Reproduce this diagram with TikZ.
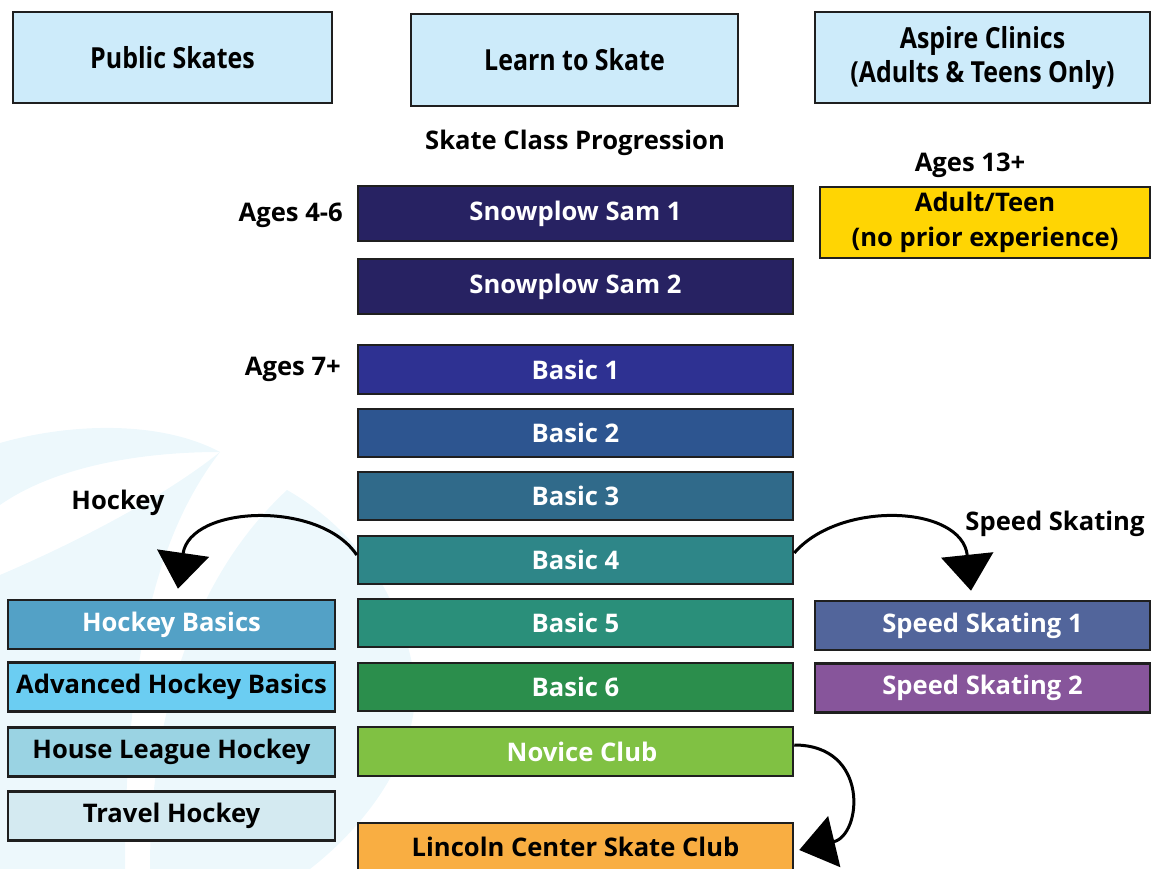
\documentclass[tikz,border=0pt]{standalone}
\usepackage{fontspec}
\setmainfont{Open Sans}
\newfontfamily\condfont{Open Sans}[FakeStretch=0.86]
\usetikzlibrary{arrows.meta}
\definecolor{wmark}{HTML}{EDF8FC}
\definecolor{toplight}{HTML}{CDEBFA}
\definecolor{samc}{HTML}{272262}
\definecolor{bone}{HTML}{2E3192}
\definecolor{btwo}{HTML}{2D5590}
\definecolor{bthree}{HTML}{306A8A}
\definecolor{bfour}{HTML}{2E8688}
\definecolor{bfive}{HTML}{2A8F7A}
\definecolor{bsix}{HTML}{2B8E4C}
\definecolor{novc}{HTML}{80C143}
\definecolor{lincc}{HTML}{F9AE42}
\definecolor{adultc}{HTML}{FFD503}
\definecolor{hbc}{HTML}{53A1C6}
\definecolor{ahbc}{HTML}{6BCDF2}
\definecolor{hlhc}{HTML}{9AD3E3}
\definecolor{thc}{HTML}{D4EAF1}
\definecolor{ssone}{HTML}{52659B}
\definecolor{sstwo}{HTML}{87559B}
\tikzset{
  box/.style={draw=black!88, line width=2.5pt, inner sep=0pt, font=\fontsize{25.6}{28}\selectfont\bfseries, align=center},
  midbox/.style={box, minimum width=435pt, text=white},
  leftbox/.style={box, minimum width=327pt, minimum height=49pt},
  rightbox/.style={box, minimum width=335pt, minimum height=49pt, text=white},
  topbox/.style={box, fill=toplight, font=\condfont\fontsize{29}{34}\selectfont\bfseries},
  lbl/.style={font=\fontsize{25.6}{28}\selectfont\bfseries, inner sep=0pt},
  flow/.style={line width=3pt, -{Triangle[width=52pt,length=36pt]}}
}
\begin{document}
\begin{tikzpicture}[x=1pt,y=-1pt]
\useasboundingbox (0,0) rectangle (1152,869);
% watermark
\fill[wmark] (0,443) .. controls (70,423) and (160,420) .. (220,452) .. controls (130,452) and (50,470) .. (0,505) -- cycle;
\fill[wmark] (0,575) .. controls (70,545) and (160,500) .. (220,452) .. controls (160,530) and (125,650) .. (125,869) -- (0,869) -- cycle;
\fill[wmark] (287,490) .. controls (340,520) and (400,580) .. (415,680) .. controls (420,760) and (360,830) .. (310,869) -- (150,869) .. controls (150,720) and (190,580) .. (287,490) -- cycle;
% top row
\node[topbox, minimum width=319pt, minimum height=91pt] (pub) at (172.5,57.5) {Public Skates};
\node[topbox, minimum width=327pt, minimum height=92pt] (lts) at (574.5,60) {Learn to Skate};
\node[topbox, minimum width=335pt, minimum height=91pt] (asp) at (982.5,57.5) {Aspire Clinics\\(Adults \& Teens Only)};
% labels
\node[lbl] (prog) at (575,143) {Skate Class Progression};
\node[lbl] (a13) at (970,165) {Ages 13+};
\node[lbl, anchor=east] (a46) at (343,215) {Ages 4-6};
\node[lbl, anchor=east] (a7) at (341,369) {Ages 7+};
\node[lbl] (hock) at (118,503) {Hockey};
\node[lbl] (spd) at (1055,524) {Speed Skating};
% adult
\node[box, fill=adultc, minimum width=330pt, minimum height=71pt, font=\fontsize{25.6}{35}\selectfont\bfseries] (adult) at (985,222.5) {Adult/Teen\\(no prior experience)};
% center column
\node[midbox, fill=samc, minimum height=55pt] (s1) at (575.5,213.5) {Snowplow Sam 1};
\node[midbox, fill=samc, minimum height=55pt] (s2) at (575.5,286.5) {Snowplow Sam 2};
\node[midbox, fill=bone, minimum height=49pt] (b1) at (575.5,369.5) {Basic 1};
\node[midbox, fill=btwo, minimum height=48pt] (b2) at (575.5,433) {Basic 2};
\node[midbox, fill=bthree, minimum height=48pt] (b3) at (575.5,496) {Basic 3};
\node[midbox, fill=bfour, minimum height=48pt] (b4) at (575.5,560) {Basic 4};
\node[midbox, fill=bfive, minimum height=48pt] (b5) at (575.5,623) {Basic 5};
\node[midbox, fill=bsix, minimum height=48pt] (b6) at (575.5,687) {Basic 6};
\node[midbox, fill=novc, minimum height=49pt] (nov) at (575.5,751.5) {\hspace*{13pt}Novice Club};
\node[midbox, fill=lincc, text=black, minimum height=48pt] (linc) at (575.5,847) {Lincoln Center Skate Club};
% left column
\node[leftbox, fill=hbc, text=white] (hb) at (171.5,624.5) {Hockey Basics};
\node[leftbox, fill=ahbc] (ahb) at (171.5,687) {Advanced Hockey Basics};
\node[leftbox, fill=hlhc] (hlh) at (171.5,752) {House League Hockey};
\node[leftbox, fill=thc] (th) at (171.5,816) {Travel Hockey};
% right column
\node[rightbox, fill=ssone] (ss1) at (982.5,625.5) {Speed Skating 1};
\node[rightbox, fill=sstwo] (ss2) at (982.5,688) {Speed Skating 2};
% connectors
\draw[flow] ([yshift=5pt]b4.west) .. controls (320,500) and (190,505) .. ([xshift=6.5pt,yshift=10pt]hb.north);
\draw[flow] ([yshift=7pt]b4.east) .. controls (840,500) and (962,505) .. ([xshift=-11.5pt,yshift=9pt]ss1.north);
\draw[flow] ([yshift=6.5pt]nov.east) .. controls (870,745) and (862,835) .. ([xshift=5pt,yshift=-3pt]linc.east);
\end{tikzpicture}
\end{document}
